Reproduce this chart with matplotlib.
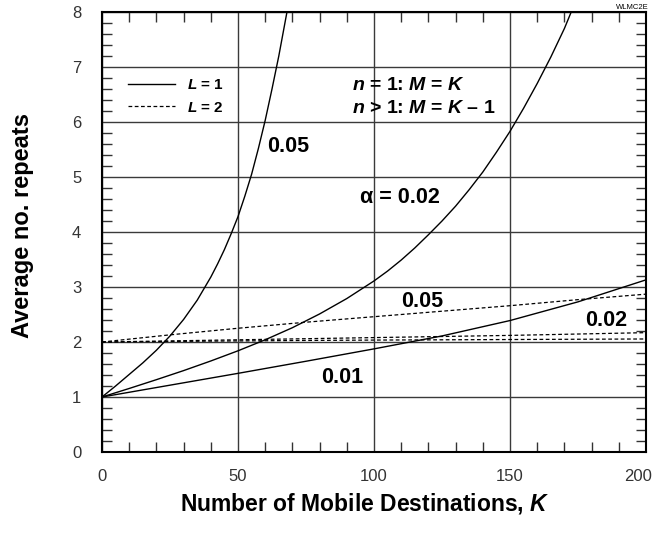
import matplotlib
matplotlib.use("Agg")
import matplotlib.pyplot as plt
from matplotlib.ticker import MultipleLocator
from matplotlib.transforms import ScaledTranslation

plt.rcParams['font.family'] = ['Liberation Sans', 'DejaVu Sans']
plt.rcParams['mathtext.fontset'] = 'custom'
plt.rcParams['mathtext.it'] = 'Liberation Sans:italic:bold'
plt.rcParams['mathtext.rm'] = 'Liberation Sans:bold'
plt.rcParams['mathtext.bf'] = 'Liberation Sans:bold'

# ---- data ----
k_a05_l1 = [0, 5, 10, 15, 20, 25, 30, 35, 40, 42.5, 45, 47.5, 50, 52.5, 55, 57.5, 60, 62.5, 65, 68]
y_a05_l1 = [1.0, 1.2, 1.41, 1.62, 1.85, 2.11, 2.41, 2.76, 3.18, 3.42, 3.68, 3.97, 4.28, 4.65,
            5.05, 5.52, 6.03, 6.6, 7.2, 8.0]

k_a02_l1 = [0, 10, 20, 30, 40, 50, 60, 70, 80, 90, 100, 105, 110, 115, 120, 125, 130, 135,
            140, 145, 150, 155, 160, 165, 170, 172.5]
y_a02_l1 = [1.0, 1.155, 1.315, 1.48, 1.655, 1.84, 2.04, 2.26, 2.51, 2.79, 3.11, 3.29, 3.49,
            3.71, 3.95, 4.2, 4.47, 4.77, 5.09, 5.45, 5.83, 6.25, 6.7, 7.18, 7.7, 8.0]

k_a01_l1 = [0, 25, 50, 75, 100, 125, 150, 175, 200]
y_a01_l1 = [1.0, 1.215, 1.43, 1.65, 1.875, 2.11, 2.39, 2.73, 3.13]

k_l2 = [0, 25, 50, 75, 100, 125, 150, 175, 200]
y_a05_l2 = [2.0, 2.13, 2.25, 2.36, 2.46, 2.56, 2.66, 2.77, 2.87]
y_a02_l2 = [2.0, 2.02, 2.04, 2.06, 2.08, 2.1, 2.12, 2.145, 2.17]
y_a01_l2 = [2.0, 2.01, 2.02, 2.028, 2.035, 2.04, 2.045, 2.05, 2.055]

x_ticks = [0, 50, 100, 150, 200]
y_ticks = [0, 1, 2, 3, 4, 5, 6, 7, 8]

fig = plt.figure(figsize=(6.57, 5.33), dpi=100)
ax = fig.add_axes([102/657, 1 - 452/533, 544/657, 440/533])

solid = dict(color='black', lw=1.0, solid_joinstyle='round')
dashed = dict(color='black', lw=0.9, linestyle=(0, (3, 2)))

l1, = ax.plot(k_a05_l1, y_a05_l1, **solid)
ax.plot(k_a02_l1, y_a02_l1, **solid)
ax.plot(k_a01_l1, y_a01_l1, **solid)
l2, = ax.plot(k_l2, y_a05_l2, **dashed)
ax.plot(k_l2, y_a02_l2, **dashed)
ax.plot(k_l2, y_a01_l2, **dashed)

ax.set_xlim(0, 200)
ax.set_ylim(0, 8)
ax.set_xticks(x_ticks)
ax.set_yticks(y_ticks)
ax.xaxis.set_minor_locator(MultipleLocator(10))
ax.yaxis.set_minor_locator(MultipleLocator(0.2))
ax.grid(True, which='major', color='#3a3a3a', lw=1.0)
ax.set_axisbelow(True)
ax.tick_params(which='major', length=0, labelsize=12, colors='#333333')
ax.tick_params(axis='y', which='major', pad=15)
ax.tick_params(axis='x', which='major', pad=12)
ax.tick_params(which='minor', direction='in', length=7, width=1.0, top=True, right=True, color='#333333')
for s in ax.spines.values():
    s.set_linewidth(1.5)

# keep the last x tick label inside the figure
fig.canvas.draw()
lastlab = ax.get_xticklabels()[-1]
lastlab.set_transform(lastlab.get_transform() + ScaledTranslation(-8/100, 0, fig.dpi_scale_trans))

ax.set_xlabel('Number of Mobile Destinations, $\\mathit{K}$', fontsize=16.5, fontweight='bold', labelpad=5)
ax.xaxis.label.set_x(0.483)
ax.set_ylabel('Average no. repeats', fontsize=17, fontweight='bold', labelpad=27)
ax.yaxis.label.set_y(0.514)

# curve annotations
ann = dict(fontsize=15.5, fontweight='bold', ha='center', va='center')
ax.text(68.6, 5.55, '0.05', **ann)
ax.text(109.7, 4.62, '\u03b1 = 0.02', **ann)
ax.text(117.6, 2.73, '0.05', **ann)
ax.text(185.3, 2.39, '0.02', **ann)
ax.text(88.4, 1.35, '0.01', **ann)

ax.text(92.0, 6.67, '$n$ = 1: $M$ = $K$', fontsize=14, fontweight='bold', ha='left', va='center')
ax.text(92.0, 6.25, '$n$ > 1: $M$ = $K$ \u2013 1', fontsize=14, fontweight='bold', ha='left', va='center')

leg = ax.legend([l1, l2], ['$\\mathit{L}$ = 1', '$\\mathit{L}$ = 2'], loc='upper left',
                bbox_to_anchor=(0.036, 0.863), frameon=False, fontsize=11,
                handlelength=3.1, handletextpad=0.75, labelspacing=0.55, borderaxespad=0)
for t in leg.get_texts():
    t.set_fontweight('bold')

fig.text(0.963, 0.992, 'WLMC2E', fontsize=5.5, ha='center', va='top')

fig.savefig('out.png', dpi=100)
